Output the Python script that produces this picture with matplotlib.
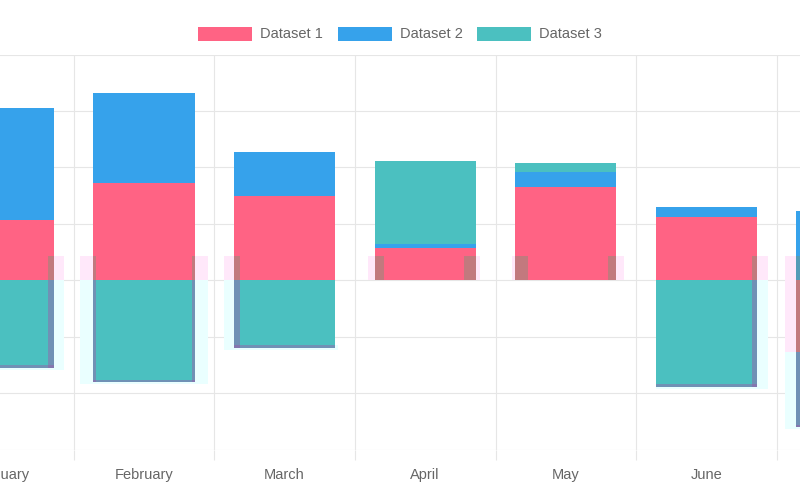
import numpy as np
import matplotlib

matplotlib.use('Agg')

import matplotlib.pyplot as plt
from matplotlib.patches import Rectangle

plt.rcParams['font.family'] = ['Liberation Sans', 'DejaVu Sans']

months = ['January', 'February', 'March', 'April', 'May', 'June', 'July']
series_names = ['Dataset 1', 'Dataset 2', 'Dataset 3']
dataset1 = [21.3, 34.3, 29.9, 11.3, 33.1, 22.4, -25.3]
dataset2 = [39.9, 31.9, 15.6, 1.6, 5.1, 3.4, 24.6]
dataset3 = [-31.0, -36.0, -23.9, 29.3, 3.5, -37.7, -26.7]

# left-over frame of an earlier render that shows through around the bars
ghost_top = [8.7, 8.7, 8.7, 8.7, 8.7, 8.7, 8.7]
ghost_left_offset = [np.nan, -0.455, -0.431, -0.407, -0.383, np.nan, -0.441]
ghost_right_offset = [0.431, 0.455, np.nan, 0.390, 0.414, 0.438, np.nan]

COLORS = ['#ff6384', '#36a2eb', '#4bc0c0']
GHOST_LIGHT = ['#ffe8fa', '#eaffff']
GHOST_DARK = [((0.47, 0.59, 0.47), 0.45), ((0.62, 0.35, 0.66), 0.45)]
GRID = '#e6e6e6'
TEXT = '#666666'
BAR_W = 0.72
BAND = 16 / 140.6       # ghost edge band, in category units
BOTTOM_BAND = 0.8

x = np.arange(len(months))
n = len(months)

# stacked like chart.js: positives and negatives pile up separately
segments = []
pos = np.zeros(n)
neg = np.zeros(n)
for vals in [dataset1, dataset2, dataset3]:
    v = np.array(vals, dtype=float)
    base = np.where(v >= 0, pos, neg)
    segments.append((base.copy(), v))
    pos += np.clip(v, 0, None)
    neg += np.clip(v, None, 0)

fig = plt.figure(figsize=(8, 5), dpi=100)
ax = fig.add_axes([0, 50.5 / 500, 1, 395 / 500])

handles = []
for (base, v), c, name in zip(segments, COLORS, series_names):
    h = ax.bar(x, v, bottom=base, width=BAR_W, color=c, zorder=2, label=name)
    handles.append(h)

# ghost pieces: (kind, category, x0, x1, y0, y1)
pieces = []
for i in range(n):
    d1_low = min(0.0, dataset1[i])
    gl = x[i] + ghost_left_offset[i]
    gr = x[i] + ghost_right_offset[i]
    cyan_bottom = neg[i] - BOTTOM_BAND
    for edge, sign in [(gl, 1), (gr, -1)]:
        if np.isnan(edge):
            continue
        lo, hi = sorted([edge, edge + sign * BAND])
        pieces.append((0, i, lo, hi, d1_low, ghost_top[i]))
        if neg[i] < d1_low:
            pieces.append((1, i, lo, hi, cyan_bottom, d1_low))
    if neg[i] < d1_low:
        left = gl if not np.isnan(gl) else x[i] - BAR_W / 2
        right = gr if not np.isnan(gr) else x[i] + BAR_W / 2 + 0.02
        pieces.append((1, i, left, right, cyan_bottom,
                       cyan_bottom + 2 * BOTTOM_BAND))

for kind, ci, x0, x1, y0, y1 in pieces:
    ax.add_patch(Rectangle((x0, y0), x1 - x0, y1 - y0, lw=0,
                           facecolor=GHOST_LIGHT[kind], zorder=1))
    for base, v in segments:
        bx0, bx1 = x[ci] - BAR_W / 2, x[ci] + BAR_W / 2
        by0, by1 = sorted([base[ci], base[ci] + v[ci]])
        ix0, ix1 = max(x0, bx0), min(x1, bx1)
        iy0, iy1 = max(y0, by0), min(y1, by1)
        if ix1 > ix0 and iy1 > iy0:
            col, a = GHOST_DARK[kind]
            ax.add_patch(Rectangle((ix0, iy0), ix1 - ix0, iy1 - iy0, lw=0,
                                   facecolor=col, alpha=a, zorder=3))

ax.set_yticks(np.arange(-60, 81, 20))
ax.set_xticks(x)
ax.set_xticklabels(months, fontsize=10.5, color=TEXT)
ax.set_xticks(x[:-1] + 0.5, minor=True)
ax.set_xlim(-0.0242, 5.6657)
ax.set_ylim(-60, 80)
ax.tick_params(axis='x', which='major', length=0, pad=13)
ax.tick_params(axis='x', which='minor', length=7.5, width=0.8, color=GRID)
ax.tick_params(axis='y', length=0, labelleft=False)
ax.grid(True, axis='y', color=GRID, lw=0.8, zorder=0)
ax.grid(True, axis='x', which='minor', color=GRID, lw=0.8, zorder=0)
ax.set_axisbelow(True)
for s in ax.spines.values():
    s.set_visible(False)

fig.legend(handles=handles, loc='center', bbox_to_anchor=(0.5, 1 - 34 / 500),
           ncol=3, frameon=False, fontsize=10.5, labelcolor=TEXT,
           handlelength=3.7, handleheight=1.1, handletextpad=0.55,
           columnspacing=1.0, borderpad=0)

fig.savefig('out.png', dpi=100)
